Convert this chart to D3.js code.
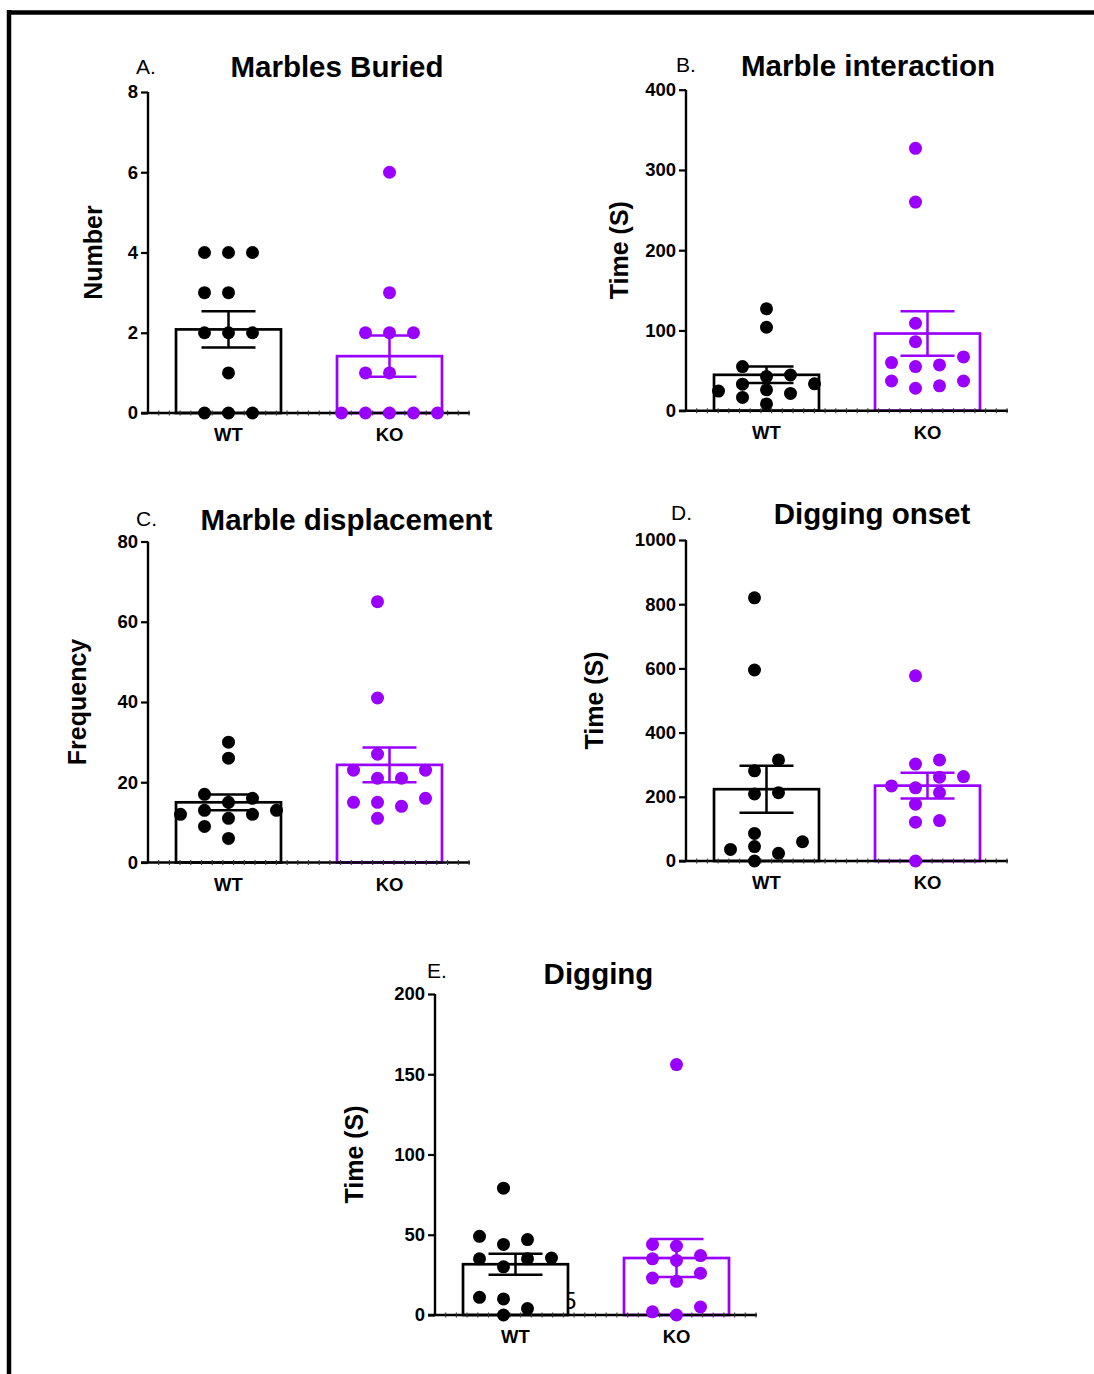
<!DOCTYPE html>
<html>
<head>
<meta charset="utf-8">
<script src="https://cdn.jsdelivr.net/npm/d3@7"></script>
<style>
  body { margin: 0; background: #fff; }
  svg { display: block; }
  text { font-family: "Liberation Sans", Arial, Helvetica, sans-serif; fill: #000; }
</style>
</head>
<body>
<svg id="fig" width="1094" height="1374"></svg>
<script>
// ---- data: individual animals per group ----
const groups = ["WT", "KO"];

const buriedWT = [4, 4, 4, 3, 3, 2, 2, 2, 1, 0, 0, 0];
const buriedKO = [6, 3, 2, 2, 2, 1, 1, 0, 0, 0, 0, 0];
const buriedTicks = [0, 2, 4, 6, 8];

const interactionWT = [127, 104, 55, 44.5, 42.5, 33.5, 33, 26, 24.5, 21.5, 16.5, 8.5];
const interactionKO = [327, 260, 109, 86, 67, 60, 57, 55, 37, 37, 31, 28];
const interactionTicks = [0, 100, 200, 300, 400];

const displacementWT = [30, 26, 17, 16, 15, 13, 13, 12, 12, 11, 9, 6];
const displacementKO = [65, 41, 27, 23, 23, 21, 21, 16, 15, 15, 14, 11];
const displacementTicks = [0, 20, 40, 60, 80];

const onsetWT = [820, 595, 315, 281, 213, 209, 86, 60, 45, 36, 24, 0];
const onsetKO = [577, 315, 302, 263, 261, 234, 228, 213, 177, 126, 121, 0];
const onsetTicks = [0, 200, 400, 600, 800, 1000];

const diggingWT = [79, 49, 47, 44, 35.5, 35, 35, 30, 11, 10, 4, 0];
const diggingKO = [156, 44, 43, 37, 35, 34, 26, 23, 21, 5, 2, 0];
const diggingTicks = [0, 50, 100, 150, 200];

// ---- styling ----
const PURPLE = "#9900ff";
const groupColor = { WT: "#000", KO: PURPLE };
const DOT_R = 6.5;
const COL = 24;        // horizontal spacing between swarm columns
const MIN_DY = 13;     // vertical clearance for dots sharing a column
const PLOT_W = 322;
const PLOT_H = 321;

const panels = [
  { letter: "A.", title: "Marbles Buried", yLabel: "Number", wt: buriedWT, ko: buriedKO, ticks: buriedTicks,
    x0: 148, yTop: 92, titleX: 337, titleY: 77, letterX: 136, letterY: 74, yLabelX: 93 },
  { letter: "B.", title: "Marble interaction", yLabel: "Time (S)", wt: interactionWT, ko: interactionKO, ticks: interactionTicks,
    x0: 686, yTop: 89.7, titleX: 868, titleY: 76, letterX: 676, letterY: 72, yLabelX: 619 },
  { letter: "C.", title: "Marble displacement", yLabel: "Frequency", wt: displacementWT, ko: displacementKO, ticks: displacementTicks,
    x0: 148, yTop: 541.5, titleX: 346.5, titleY: 530, letterX: 136, letterY: 526, yLabelX: 77 },
  { letter: "D.", title: "Digging onset", yLabel: "Time (S)", wt: onsetWT, ko: onsetKO, ticks: onsetTicks,
    x0: 686, yTop: 540, titleX: 872, titleY: 524, letterX: 671, letterY: 520, yLabelX: 594 },
  { letter: "E.", title: "Digging", yLabel: "Time (S)", wt: diggingWT, ko: diggingKO, ticks: diggingTicks,
    x0: 435, yTop: 994, titleX: 598.5, titleY: 984, letterX: 427, letterY: 978, yLabelX: 354, stray: "5" }
];

const svg = d3.select("#fig");

// page frame
svg.append("line").attr("x1", 7).attr("x2", 1094).attr("y1", 12.5).attr("y2", 12.5)
  .attr("stroke", "#000").attr("stroke-width", 4.5);
svg.append("line").attr("x1", 9).attr("x2", 9).attr("y1", 10).attr("y2", 1374)
  .attr("stroke", "#000").attr("stroke-width", 4.5);

// place dots bottom-up into the first free column of a given preference list
function packColumns(pts, prefs) {
  const placed = [];
  pts.forEach(p => {
    for (const s of prefs) {
      if (!placed.some(q => q.slot === s && Math.abs(q.py - p.py) < MIN_DY)) { p.slot = s; break; }
    }
    placed.push(p);
  });
  return d3.max(pts, p => p.slot) - d3.min(pts, p => p.slot) + 1;
}

// column swarm: odd-width swarms sit on a centred grid, even-width ones on a half-step grid
function swarm(values, y, cx) {
  const pts = values.map(v => ({ v, py: y(v) })).sort((a, b) => a.v - b.v);
  const width = packColumns(pts, [0, -1, 1, -2, 2, -3, 3, -4, 4]);
  if (width % 2 === 0) packColumns(pts, [-0.5, 0.5, -1.5, 1.5, -2.5, 2.5, -3.5, 3.5]);
  const shift = (d3.min(pts, p => p.slot) + d3.max(pts, p => p.slot)) / 2;
  pts.forEach(p => { p.px = cx + (p.slot - shift) * COL; });
  return pts;
}

panels.forEach(P => {
  const g = svg.append("g");
  const yZero = P.yTop + PLOT_H;
  const y = d3.scaleLinear().domain([0, d3.max(P.ticks)]).range([yZero, P.yTop]);
  const x = d3.scaleBand().domain(groups).range([P.x0, P.x0 + PLOT_W])
    .paddingInner(0.348).paddingOuter(0.174);

  const series = { WT: P.wt, KO: P.ko };
  const stats = groups.map(k => {
    const vals = series[k];
    const m = d3.mean(vals);
    const sem = d3.deviation(vals) / Math.sqrt(vals.length);
    return { k, vals, m, sem };
  });

  // stray page glyph partly covered by the WT bar
  if (P.stray) {
    g.append("text").attr("x", x("WT") + x.bandwidth() - 5).attr("y", yZero - 6)
      .attr("font-size", 24).text(P.stray);
  }

  // bars (mean)
  g.selectAll("rect.bar").data(stats).join("rect")
    .attr("x", d => x(d.k)).attr("width", x.bandwidth())
    .attr("y", d => y(d.m)).attr("height", d => yZero - y(d.m))
    .attr("fill", "#fff").attr("stroke", d => groupColor[d.k]).attr("stroke-width", 2.7);

  // y axis
  const yAxis = d3.axisLeft(y).tickValues(P.ticks).tickSize(7).tickPadding(3).tickFormat(d3.format("d"));
  const ya = g.append("g").attr("transform", `translate(${P.x0},0)`).call(yAxis);
  ya.select(".domain").attr("d", `M0,${P.yTop}V${yZero}`).attr("stroke-width", 2.4);
  ya.selectAll(".tick line").attr("stroke-width", 2.2);
  ya.selectAll(".tick text").attr("font-size", 18.5).attr("font-weight", "bold")
    .attr("font-family", "'Liberation Sans', Arial, sans-serif").attr("fill", "#000");

  // x axis with fine dotted ticks
  g.append("line").attr("x1", P.x0 - 7).attr("x2", P.x0 + PLOT_W).attr("y1", yZero).attr("y2", yZero)
    .attr("stroke", "#000").attr("stroke-width", 2.6);
  g.selectAll("line.minor").data(d3.range(P.x0 + 10.7, P.x0 + PLOT_W, 10.7)).join("line")
    .attr("x1", d => d).attr("x2", d => d).attr("y1", yZero - 2.5).attr("y2", yZero + 2.5)
    .attr("stroke", "#333").attr("stroke-width", 1.1);

  // category labels
  g.selectAll("text.cat").data(groups).join("text")
    .attr("x", d => x(d) + x.bandwidth() / 2).attr("y", yZero + 28)
    .attr("text-anchor", "middle").attr("font-size", 18.5).attr("font-weight", "bold").text(d => d);

  // error bars (mean ± SEM)
  const cap = 27;
  stats.forEach(d => {
    const cx = x(d.k) + x.bandwidth() / 2;
    const eb = g.append("g").attr("stroke", groupColor[d.k]).attr("stroke-width", 2.5);
    eb.append("line").attr("x1", cx).attr("x2", cx).attr("y1", y(d.m - d.sem)).attr("y2", y(d.m + d.sem));
    eb.append("line").attr("x1", cx - cap).attr("x2", cx + cap).attr("y1", y(d.m + d.sem)).attr("y2", y(d.m + d.sem));
    eb.append("line").attr("x1", cx - cap).attr("x2", cx + cap).attr("y1", y(d.m - d.sem)).attr("y2", y(d.m - d.sem));
  });

  // individual animals
  stats.forEach(d => {
    const cx = x(d.k) + x.bandwidth() / 2;
    g.selectAll(null).data(swarm(d.vals, y, cx)).join("circle")
      .attr("cx", p => p.px).attr("cy", p => p.py).attr("r", DOT_R)
      .attr("fill", groupColor[d.k]);
  });

  // titles and labels
  g.append("text").attr("x", P.titleX).attr("y", P.titleY).attr("text-anchor", "middle")
    .attr("font-size", 29.5).attr("font-weight", "bold").text(P.title);
  g.append("text").attr("x", P.letterX).attr("y", P.letterY)
    .attr("font-size", 21).text(P.letter);
  g.append("text")
    .attr("transform", `translate(${P.yLabelX},${(P.yTop + yZero) / 2}) rotate(-90)`)
    .attr("text-anchor", "middle").attr("dominant-baseline", "central")
    .attr("font-size", 25).attr("font-weight", "bold").text(P.yLabel);
});
</script>
</body>
</html>
